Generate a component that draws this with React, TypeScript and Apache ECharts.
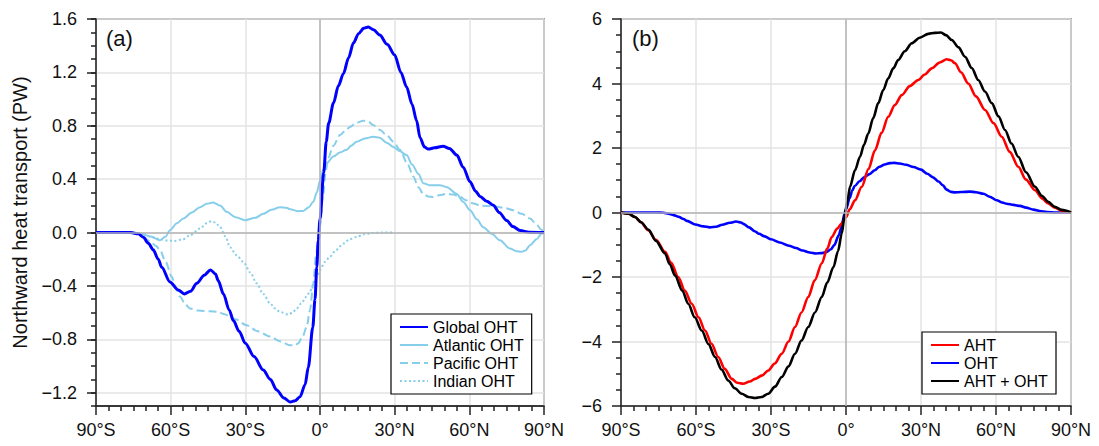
import React, { useEffect, useRef } from 'react';
import * as echarts from 'echarts';

// ---------- Panel (a): ocean heat transport by basin (PW) ----------
const globalLat = [-90, -80, -76, -73, -71, -69, -67, -65, -63.6, -60.3, -57, -54.5, -52, -49.5, -46.5, -44, -42, -40.9, -38.8, -36.5, -34.8, -32.5, -30, -26.5, -22.8, -20, -17.4, -14.5, -12, -10, -8, -6, -4.7, -2.9, -2, -1.3, -0.7, 0, 1.5, 2.5, 3.5, 5.4, 7.4, 9.4, 11.5, 13.4, 15.5, 17.5, 19.4, 21.5, 24, 27, 30, 32.5, 34.8, 37, 38.8, 40.2, 42, 43.5, 46, 49.5, 52, 55, 57.5, 60.3, 62.5, 64.3, 67, 69.6, 72, 75, 77.5, 80.4, 84, 90];
const globalOHT = [0, 0, 0, -0.01, -0.035, -0.08, -0.13, -0.2, -0.26, -0.37, -0.43, -0.46, -0.44, -0.38, -0.32, -0.28, -0.31, -0.36, -0.46, -0.58, -0.66, -0.74, -0.83, -0.93, -1.03, -1.1, -1.18, -1.24, -1.27, -1.26, -1.23, -1.14, -1.01, -0.71, -0.5, -0.26, -0.06, 0.1, 0.45, 0.68, 0.82, 0.97, 1.1, 1.19, 1.31, 1.42, 1.49, 1.53, 1.54, 1.52, 1.48, 1.41, 1.33, 1.2, 1.09, 0.96, 0.84, 0.71, 0.64, 0.625, 0.635, 0.647, 0.63, 0.58, 0.49, 0.38, 0.31, 0.27, 0.235, 0.205, 0.15, 0.09, 0.045, 0.015, 0.002, 0];

const atlanticLat = [-90, -78, -72, -68, -64.3, -62, -60.3, -57.5, -54.9, -51.5, -48.2, -45.5, -42.9, -40, -37.5, -34, -30.1, -26, -22.8, -19.5, -16.1, -13.5, -12, -9, -6.7, -4.5, -2.7, -1.3, 0, 1.3, 2.7, 5.4, 8, 10.7, 12.5, 14.7, 18, 21.4, 24, 27, 29.5, 32, 34.8, 37, 39.5, 41.5, 44, 48.2, 51, 54.9, 57.5, 60.3, 63, 65.6, 69, 72.3, 76.3, 79, 81, 82.5, 84.4, 87, 89, 90];
const atlanticOHT = [0, 0, -0.01, -0.03, -0.058, -0.03, 0.017, 0.07, 0.105, 0.15, 0.19, 0.215, 0.225, 0.2, 0.155, 0.115, 0.092, 0.11, 0.14, 0.17, 0.19, 0.185, 0.175, 0.16, 0.162, 0.19, 0.23, 0.3, 0.39, 0.47, 0.52, 0.57, 0.6, 0.62, 0.65, 0.68, 0.705, 0.717, 0.71, 0.67, 0.64, 0.61, 0.58, 0.51, 0.44, 0.37, 0.355, 0.355, 0.34, 0.29, 0.23, 0.167, 0.1, 0.04, -0.01, -0.058, -0.12, -0.14, -0.145, -0.135, -0.095, -0.05, -0.01, 0];

const pacificLat = [-90, -76, -73, -71, -68, -66, -64.3, -62, -59.6, -58, -56.3, -54, -52.2, -49, -44.2, -41, -38.8, -34, -29.5, -25, -20.1, -16, -12, -10, -8.7, -7, -5.4, -4, -2.7, -1.5, 0, 1.3, 2.2, 3.3, 5.4, 8, 10, 12, 14.5, 17.4, 19.5, 21.4, 24, 26.8, 29.5, 32.1, 35, 37.5, 39.5, 41.5, 43.5, 45.5, 48, 50.9, 53.5, 56.2, 59, 61.6, 65, 69.6, 74, 77.7, 81, 84.4, 87, 89, 90];
const pacificOHT = [0, 0, -0.01, -0.033, -0.07, -0.1, -0.13, -0.22, -0.33, -0.41, -0.48, -0.54, -0.57, -0.585, -0.59, -0.595, -0.61, -0.65, -0.695, -0.74, -0.78, -0.815, -0.845, -0.845, -0.83, -0.78, -0.71, -0.58, -0.38, -0.15, 0.05, 0.29, 0.45, 0.56, 0.65, 0.73, 0.76, 0.79, 0.82, 0.837, 0.83, 0.805, 0.77, 0.73, 0.68, 0.62, 0.52, 0.42, 0.34, 0.29, 0.27, 0.267, 0.28, 0.29, 0.285, 0.267, 0.24, 0.217, 0.2, 0.197, 0.185, 0.167, 0.14, 0.105, 0.06, 0.02, 0];

const indianLat = [-78, -74, -71, -67.5, -64.3, -61, -58.3, -55, -52.2, -48.2, -45.5, -43.5, -42, -40.2, -38, -36.2, -33.5, -30.8, -28, -25.5, -22.8, -20.1, -18, -16.1, -12.7, -11, -9.4, -7.5, -5.4, -4, -2.7, -1, 0, 2, 4, 6.5, 9.4, 12, 14.7, 18, 21.4, 25, 30];
const indianOHT = [0, -0.005, -0.015, -0.035, -0.05, -0.06, -0.063, -0.05, -0.02, 0.03, 0.07, 0.085, 0.075, 0.042, -0.03, -0.11, -0.17, -0.22, -0.3, -0.38, -0.46, -0.53, -0.57, -0.595, -0.615, -0.6, -0.57, -0.53, -0.48, -0.44, -0.39, -0.32, -0.28, -0.22, -0.18, -0.13, -0.083, -0.05, -0.033, -0.012, -0.003, 0, 0];

// ---------- Panel (b): atmospheric + ocean heat transport (PW) ----------
const ahtLat = [-90, -87, -84.4, -82, -79.1, -76, -72.4, -70, -67.1, -64.5, -61.7, -59, -56.4, -53.8, -51.1, -48.5, -45.7, -43.5, -41.1, -38.5, -36.4, -33.5, -31.1, -28.5, -25.7, -23, -20.4, -17.8, -15.1, -12.5, -9.7, -7.5, -5.7, -3.5, -1.7, 0, 1.5, 3.6, 6.3, 9, 11.6, 14.2, 16.9, 19.5, 22.3, 25.5, 28.9, 31.5, 34.3, 37.5, 40.3, 42, 43.6, 46, 48.9, 52, 55.6, 59, 62.3, 65.5, 68.9, 72, 75.6, 78.5, 80.9, 83.5, 86.3, 90];
const aht = [0, -0.04, -0.14, -0.3, -0.55, -0.85, -1.22, -1.55, -2.0, -2.42, -2.83, -3.25, -3.66, -4.07, -4.48, -4.85, -5.16, -5.28, -5.31, -5.24, -5.16, -5.05, -4.9, -4.68, -4.38, -4.0, -3.55, -3.1, -2.62, -2.1, -1.58, -1.12, -0.76, -0.5, -0.34, -0.15, 0.1, 0.38, 0.8, 1.35, 1.93, 2.47, 2.97, 3.33, 3.64, 3.92, 4.11, 4.28, 4.47, 4.65, 4.75, 4.72, 4.63, 4.35, 4.0, 3.6, 3.18, 2.77, 2.35, 1.88, 1.42, 1.02, 0.69, 0.43, 0.28, 0.15, 0.05, 0];

const totalLat = [-90, -87, -84.4, -82, -79.1, -76, -72.4, -70.5, -68.4, -65.5, -63.1, -60.5, -57.7, -55, -52.4, -49.8, -47.1, -44.5, -41.7, -39, -36.4, -33.8, -31.1, -28.4, -25.7, -23, -20.4, -17.8, -15.1, -12.4, -9.7, -7.5, -5, -3.2, -1.7, -0.5, 0.6, 1.6, 3.6, 5.6, 7.2, 8.9, 10.9, 12.9, 14.9, 16.9, 18.9, 20.9, 23.5, 26.3, 29.5, 32.9, 35.5, 38, 40, 42.3, 45, 47.6, 50.3, 52.9, 55.6, 58.3, 61, 63.6, 66.2, 68.9, 72, 75.6, 78.3, 80.9, 83.5, 86.3, 90];
const ahtPlusOht = [0, -0.04, -0.14, -0.3, -0.53, -0.88, -1.27, -1.6, -1.95, -2.42, -2.83, -3.25, -3.66, -4.08, -4.48, -4.87, -5.21, -5.45, -5.62, -5.72, -5.75, -5.72, -5.62, -5.4, -5.1, -4.77, -4.38, -3.97, -3.55, -3.1, -2.62, -2.17, -1.69, -1.2, -0.65, -0.05, 0.35, 0.8, 1.31, 1.73, 2.1, 2.45, 2.93, 3.39, 3.8, 4.16, 4.47, 4.73, 5.0, 5.25, 5.42, 5.54, 5.57, 5.58, 5.5, 5.35, 5.12, 4.83, 4.48, 4.11, 3.75, 3.39, 2.98, 2.56, 2.14, 1.73, 1.25, 0.8, 0.52, 0.33, 0.18, 0.08, 0];

// ---------- Axis ticks ----------
const latTickStep = 30;
const yLabelsA = [-1.2, -0.8, -0.4, 0, 0.4, 0.8, 1.2, 1.6];
const yMinA = -1.3;
const yMaxA = 1.6;
const yMinorStepA = 0.1;
const yMinB = -6;
const yMaxB = 6;
const yStepB = 2;

const legendA = ['Global OHT', 'Atlantic OHT', 'Pacific OHT', 'Indian OHT'];
const legendB = ['AHT', 'OHT', 'AHT + OHT'];

const FONT = '"Liberation Sans", Arial, Helvetica, sans-serif';
const AXIS_COLOR = '#222';
const GRID_COLOR = '#e3e3e3';
const ZERO_COLOR = '#b4b4b4';
const SKY = '#87ceeb';

const pairs = (xs: number[], ys: number[]) => xs.map((x, i) => [x, ys[i]]);
const latLabel = (v: number) => (v === 0 ? '0°' : v < 0 ? `${-v}°S` : `${v}°N`);
const numLabel = (digits: number) => (v: number) => {
  const s = Math.abs(v).toFixed(digits);
  return v < -1e-9 ? '\u2212' + s : s;
};

const xAxisBase = (gridIndex: number) => ({
  type: 'value',
  gridIndex,
  min: -90,
  max: 90,
  interval: latTickStep,
  axisLine: { onZero: false, lineStyle: { color: AXIS_COLOR, width: 1.5 } },
  axisTick: { show: true, length: 9, lineStyle: { color: AXIS_COLOR, width: 1.5 } },
  minorTick: { show: true, splitNumber: 6, length: 5, lineStyle: { color: AXIS_COLOR, width: 1.5 } },
  axisLabel: { formatter: latLabel, fontSize: 18, color: '#111', margin: 15, fontFamily: FONT },
  splitLine: { show: true, lineStyle: { color: GRID_COLOR, width: 1.5 } },
});

const zeroLines = (xAxisIndex: number, yAxisIndex: number) => ({
  type: 'line',
  xAxisIndex,
  yAxisIndex,
  data: [[0, 0]],
  symbol: 'none',
  lineStyle: { opacity: 0 },
  z: 1,
  silent: true,
  markLine: {
    silent: true,
    symbol: 'none',
    label: { show: false },
    lineStyle: { color: ZERO_COLOR, width: 1.5, type: 'solid' },
    data: [{ xAxis: 0 }, { yAxis: 0 }],
  },
});

const lineSeries = (name: string, data: number[][], color: string, width: number, type: any, xAxisIndex: number, yAxisIndex: number, z = 3) => ({
  name,
  type: 'line',
  xAxisIndex,
  yAxisIndex,
  data,
  symbol: 'none',
  smooth: 0.3,
  smoothMonotone: 'x',
  z,
  lineStyle: { color, width, type },
  itemStyle: { color },
});

const legendBox = (left: number, top: number, data: string[]) => ({
  data,
  orient: 'vertical',
  left,
  top,
  padding: [5, 8, 5, 8],
  itemWidth: 28,
  itemHeight: 14,
  itemGap: 2,
  backgroundColor: '#fff',
  borderColor: '#000',
  borderWidth: 1.2,
  borderRadius: 0,
  selectedMode: false,
  itemStyle: { opacity: 0 },
  textStyle: { fontSize: 16, color: '#000', fontFamily: FONT, lineHeight: 16 },
});

export default function App() {
  const ref = useRef<HTMLDivElement>(null);
  useEffect(() => {
    const chart = echarts.init(ref.current as HTMLDivElement, null, { renderer: 'svg' });
    const option: any = {
      animation: false,
      backgroundColor: '#fff',
      textStyle: { fontFamily: FONT },
      grid: [
        { left: 96, top: 19, width: 448, height: 387, show: true, borderColor: '#555', borderWidth: 1.5, backgroundColor: 'transparent' },
        { left: 621, top: 19, width: 450, height: 387, show: true, borderColor: '#555', borderWidth: 1.5, backgroundColor: 'transparent' },
      ],
      xAxis: [xAxisBase(0), xAxisBase(1)],
      yAxis: [
        {
          type: 'value',
          gridIndex: 0,
          position: 'left',
          min: yMinA,
          max: yMaxA,
          axisLine: { onZero: false, lineStyle: { color: AXIS_COLOR, width: 1.5 } },
          axisTick: { show: true, length: 9, customValues: yLabelsA, lineStyle: { color: AXIS_COLOR, width: 1.5 } },
          axisLabel: { customValues: yLabelsA, formatter: numLabel(1), fontSize: 18, color: '#111', margin: 19, fontFamily: FONT },
          splitLine: { show: true, lineStyle: { color: GRID_COLOR, width: 1.5 } },
        },
        {
          type: 'value',
          gridIndex: 0,
          position: 'left',
          min: yMinA,
          max: yMaxA,
          interval: yMinorStepA,
          axisLine: { show: false, onZero: false },
          axisTick: { show: true, length: 5, lineStyle: { color: AXIS_COLOR, width: 1.5 } },
          axisLabel: { show: false },
          splitLine: { show: false },
        },
        {
          type: 'value',
          gridIndex: 1,
          position: 'left',
          min: yMinB,
          max: yMaxB,
          interval: yStepB,
          axisLine: { onZero: false, lineStyle: { color: AXIS_COLOR, width: 1.5 } },
          axisTick: { show: true, length: 9, lineStyle: { color: AXIS_COLOR, width: 1.5 } },
          minorTick: { show: true, splitNumber: 4, length: 5, lineStyle: { color: AXIS_COLOR, width: 1.5 } },
          axisLabel: { formatter: numLabel(0), fontSize: 18, color: '#111', margin: 19, fontFamily: FONT },
          splitLine: { show: true, lineStyle: { color: GRID_COLOR, width: 1.5 } },
        },
      ],
      legend: [legendBox(391, 314, legendA), legendBox(922, 332, legendB)],
      graphic: [
        {
          type: 'text',
          x: 20,
          y: 212.5,
          rotation: Math.PI / 2,
          style: { text: 'Northward heat transport (PW)', fontSize: 20, fill: '#111', fontFamily: FONT, align: 'center', verticalAlign: 'middle' },
        },
        { type: 'text', left: 106, top: 27, style: { text: '(a)', fontSize: 22, fill: '#111', fontFamily: FONT } },
        { type: 'text', left: 632, top: 27, style: { text: '(b)', fontSize: 22, fill: '#111', fontFamily: FONT } },
      ],
      series: [
        zeroLines(0, 0),
        zeroLines(1, 2),
        lineSeries('Indian OHT', pairs(indianLat, indianOHT), SKY, 2, [2, 2.5], 0, 0),
        lineSeries('Pacific OHT', pairs(pacificLat, pacificOHT), SKY, 2, [8, 4], 0, 0),
        lineSeries('Atlantic OHT', pairs(atlanticLat, atlanticOHT), SKY, 2, 'solid', 0, 0),
        lineSeries('Global OHT', pairs(globalLat, globalOHT), '#0000ff', 3, 'solid', 0, 0, 4),
        lineSeries('OHT', pairs(globalLat, globalOHT), '#0000ff', 2.6, 'solid', 1, 2),
        lineSeries('AHT', pairs(ahtLat, aht), '#ff0000', 2.6, 'solid', 1, 2),
        lineSeries('AHT + OHT', pairs(totalLat, ahtPlusOht), '#000000', 2.6, 'solid', 1, 2),
      ],
    };
    chart.setOption(option);
    return () => chart.dispose();
  }, []);
  return <div ref={ref} style={{ position: 'fixed', left: 0, top: 0, width: 1099, height: 446, background: '#fff' }} />;
}
